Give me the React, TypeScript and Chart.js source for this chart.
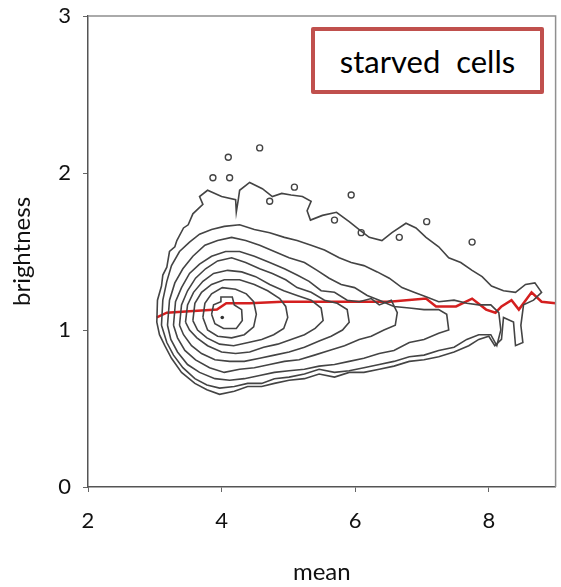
import React, { useEffect, useRef } from "react";
import { Chart, registerables } from "chart.js";

Chart.register(...registerables);

const xTicks = [2, 4, 6, 8];
const yTicks = [0, 1, 2, 3];
const xTitle = "mean";
const yTitle = "brightness";
const boxLabel = "starved\u00a0 cells";

// contour levels, outermost first: [mean, brightness]
const contour1 = [
  [3.03, 1.05], [3.04, 1.19], [3.1, 1.28], [3.12, 1.35], [3.18, 1.4], [3.22, 1.5], [3.3, 1.53], [3.33, 1.57], [3.43, 1.65], [3.5, 1.67], [3.57, 1.74],
  [3.72, 1.8], [3.67, 1.85], [3.79, 1.89], [4.0, 1.85], [4.21, 1.83], [4.22, 1.75], [4.25, 1.83],
  [4.27, 1.89], [4.42, 1.94], [4.61, 1.9], [4.76, 1.85], [4.9, 1.87], [5.04, 1.86], [5.21, 1.85],
  [5.34, 1.82], [5.28, 1.76], [5.33, 1.7], [5.51, 1.73], [5.72, 1.75], [5.91, 1.69], [6.06, 1.64],
  [6.21, 1.59], [6.4, 1.57], [6.55, 1.62], [6.76, 1.68], [6.91, 1.65], [7.06, 1.59], [7.25, 1.53],
  [7.4, 1.46], [7.58, 1.43], [7.75, 1.38], [7.9, 1.34], [8.04, 1.28], [8.22, 1.25], [8.4, 1.24],
  [8.55, 1.29], [8.69, 1.3], [8.79, 1.24], [8.67, 1.19], [8.52, 1.16], [8.48, 1.03], [8.51, 0.92],
  [8.4, 0.9], [8.37, 1.05], [8.22, 1.08], [8.19, 0.94], [8.09, 0.9], [8.0, 0.96], [7.85, 0.94], [7.7, 0.9],
  [7.48, 0.86], [7.25, 0.83], [7.03, 0.81], [6.81, 0.8], [6.58, 0.77], [6.36, 0.75], [6.13, 0.73],
  [5.91, 0.73], [5.69, 0.7], [5.46, 0.72], [5.24, 0.69], [5.01, 0.68], [4.79, 0.66], [4.6, 0.64],
  [4.39, 0.64], [4.19, 0.61], [3.97, 0.59], [3.78, 0.62], [3.6, 0.66], [3.4, 0.73], [3.25, 0.82],
  [3.15, 0.9], [3.07, 0.97], [3.03, 1.05],
];
const contour2 = [
  [3.1, 1.03], [3.12, 1.19], [3.18, 1.31], [3.25, 1.41], [3.37, 1.5], [3.52, 1.56], [3.67, 1.61],
  [3.85, 1.64], [4.04, 1.66], [4.27, 1.67], [4.49, 1.64], [4.72, 1.62], [4.94, 1.59], [5.13, 1.57],
  [5.34, 1.54], [5.54, 1.51], [5.76, 1.46], [5.94, 1.43], [6.13, 1.41], [6.33, 1.37], [6.51, 1.33],
  [6.7, 1.27], [6.88, 1.24], [7.07, 1.21], [7.25, 1.18], [7.48, 1.19], [7.67, 1.17], [7.85, 1.16],
  [8.03, 1.16], [8.15, 1.11], [8.18, 1.0], [8.12, 0.9], [8.03, 0.97], [7.85, 0.97], [7.67, 0.94],
  [7.48, 0.89], [7.25, 0.87], [7.03, 0.84], [6.81, 0.83], [6.58, 0.8], [6.36, 0.78], [6.13, 0.76],
  [5.91, 0.74], [5.69, 0.73], [5.46, 0.75], [5.24, 0.72], [5.01, 0.7], [4.79, 0.69], [4.6, 0.66],
  [4.39, 0.66], [4.19, 0.64], [3.97, 0.63], [3.78, 0.65], [3.6, 0.69], [3.42, 0.76], [3.28, 0.84],
  [3.18, 0.92], [3.1, 1.03],
];
const contour3 = [
  [3.19, 1.03], [3.22, 1.19], [3.3, 1.3], [3.42, 1.39], [3.57, 1.47], [3.75, 1.54], [3.94, 1.57],
  [4.15, 1.59], [4.36, 1.57], [4.57, 1.54], [4.79, 1.5], [5.01, 1.46], [5.24, 1.43], [5.43, 1.38],
  [5.61, 1.33], [5.79, 1.29], [5.99, 1.27], [6.18, 1.22], [6.36, 1.19], [6.58, 1.15], [6.81, 1.14],
  [7.03, 1.13], [7.25, 1.13], [7.37, 1.1], [7.4, 1.0], [7.25, 0.98], [7.03, 0.94], [6.81, 0.92],
  [6.58, 0.87], [6.36, 0.85], [6.13, 0.82], [5.91, 0.8], [5.69, 0.78], [5.46, 0.77], [5.24, 0.75],
  [5.01, 0.74], [4.79, 0.73], [4.57, 0.71], [4.34, 0.69], [4.12, 0.68], [3.9, 0.69], [3.67, 0.73],
  [3.49, 0.78], [3.34, 0.86], [3.24, 0.94], [3.19, 1.03],
];
const contour4 = [
  [3.28, 1.03], [3.31, 1.18], [3.4, 1.27], [3.52, 1.36], [3.67, 1.42], [3.85, 1.47], [4.06, 1.5],
  [4.27, 1.5], [4.49, 1.47], [4.72, 1.43], [4.94, 1.39], [5.13, 1.35], [5.31, 1.31], [5.49, 1.25],
  [5.69, 1.24], [5.88, 1.19], [6.06, 1.18], [6.24, 1.2], [6.36, 1.16], [6.54, 1.19], [6.63, 1.11],
  [6.6, 1.03], [6.43, 1.0], [6.24, 0.96], [6.06, 0.94], [5.84, 0.9], [5.61, 0.87], [5.39, 0.84],
  [5.16, 0.81], [4.94, 0.8], [4.72, 0.78], [4.49, 0.76], [4.27, 0.75], [4.04, 0.73], [3.82, 0.76],
  [3.61, 0.81], [3.45, 0.87], [3.34, 0.95], [3.28, 1.03],
];
const contour5 = [
  [3.37, 1.03], [3.4, 1.16], [3.49, 1.25], [3.61, 1.33], [3.76, 1.39], [3.94, 1.44], [4.15, 1.46],
  [4.36, 1.43], [4.57, 1.39], [4.76, 1.36], [4.96, 1.32], [5.13, 1.27], [5.34, 1.24], [5.54, 1.19],
  [5.73, 1.17], [5.88, 1.13], [5.91, 1.05], [5.81, 1.0], [5.64, 0.96], [5.46, 0.93], [5.24, 0.89],
  [5.01, 0.86], [4.79, 0.84], [4.57, 0.82], [4.34, 0.8], [4.12, 0.8], [3.9, 0.81], [3.7, 0.85],
  [3.55, 0.9], [3.43, 0.97], [3.37, 1.03],
];
const contour6 = [
  [3.46, 1.05], [3.49, 1.16], [3.58, 1.24], [3.72, 1.31], [3.88, 1.36], [4.09, 1.38], [4.3, 1.37],
  [4.51, 1.34], [4.72, 1.29], [4.93, 1.25], [5.13, 1.22], [5.34, 1.19], [5.49, 1.14], [5.52, 1.06],
  [5.4, 1.01], [5.24, 0.97], [5.04, 0.94], [4.84, 0.91], [4.63, 0.89], [4.42, 0.86], [4.21, 0.85],
  [4.0, 0.86], [3.79, 0.9], [3.63, 0.95], [3.52, 1.0], [3.46, 1.05],
];
const contour7 = [
  [3.57, 1.06], [3.6, 1.17], [3.7, 1.24], [3.85, 1.29], [4.04, 1.32], [4.27, 1.32], [4.49, 1.29],
  [4.69, 1.25], [4.87, 1.2], [4.96, 1.15], [4.99, 1.08], [4.93, 1.01], [4.78, 0.97], [4.6, 0.94],
  [4.4, 0.92], [4.18, 0.9], [3.97, 0.91], [3.78, 0.95], [3.64, 1.0], [3.57, 1.06],
];
const contour8 = [
  [3.72, 1.08], [3.75, 1.17], [3.85, 1.23], [4.01, 1.27], [4.21, 1.26], [4.37, 1.23], [4.48, 1.18],
  [4.52, 1.1], [4.48, 1.02], [4.34, 0.97], [4.15, 0.95], [3.94, 0.96], [3.79, 1.0], [3.72, 1.08],
];
const contour9 = [
  [3.85, 1.1], [3.88, 1.16], [3.99, 1.18], [3.99, 1.21], [4.16, 1.21], [4.19, 1.16], [4.3, 1.13],
  [4.31, 1.06], [4.22, 1.01], [4.03, 1.01], [3.9, 1.04], [3.85, 1.1],
];
const contours = [contour1, contour2, contour3, contour4, contour5, contour6, contour7, contour8, contour9];

// small isolated contour islands
const islands = [
  [4.1, 2.1], [4.57, 2.16], [3.87, 1.97], [4.12, 1.97], [5.09, 1.91], [5.94, 1.86],
  [7.07, 1.69], [7.75, 1.56], [4.72, 1.82], [5.69, 1.7], [6.09, 1.62], [6.66, 1.59],
];
const peak = [[4.01, 1.08]];

// red running mean of brightness
const trendMean = [3.03, 3.18, 3.52, 3.93, 4.07, 4.42, 4.91, 5.46, 5.91, 6.51, 7.06, 7.21, 7.51, 7.75, 7.96, 8.1, 8.19, 8.34, 8.45, 8.64, 8.79, 9.0];
const trendBrightness = [1.08, 1.11, 1.12, 1.13, 1.17, 1.17, 1.18, 1.18, 1.18, 1.18, 1.2, 1.15, 1.15, 1.2, 1.13, 1.11, 1.15, 1.19, 1.13, 1.24, 1.18, 1.17];

const FONT = "Lato, 'Open Sans', 'DejaVu Sans', sans-serif";

export default function App() {
  const ref = useRef<HTMLCanvasElement | null>(null);

  useEffect(() => {
    if (!ref.current) return;
    const toPts = (arr: number[][]) => arr.map(([x, y]) => ({ x, y }));
    const framePlugin = {
      id: "frame",
      afterDatasetsDraw(chart: any) {
        const { ctx, chartArea } = chart;
        ctx.save();
        ctx.strokeStyle = "#8f8f8f";
        ctx.lineWidth = 1.5;
        ctx.beginPath();
        ctx.moveTo(chartArea.left, chartArea.top);
        ctx.lineTo(chartArea.right, chartArea.top);
        ctx.lineTo(chartArea.right, chartArea.bottom);
        ctx.stroke();
        ctx.restore();
      },
    };
    const datasets: any[] = contours.map((c, i) => ({
      label: "level " + (i + 1),
      data: toPts(c),
      showLine: true,
      borderColor: "#444",
      borderWidth: 1.6,
      pointRadius: 0,
      tension: 0,
      fill: false,
    }));
    datasets.push({
      label: "islands",
      data: toPts(islands),
      showLine: false,
      pointRadius: 3,
      pointBorderWidth: 1.4,
      pointBorderColor: "#444",
      pointBackgroundColor: "rgba(0,0,0,0)",
    });
    datasets.push({
      label: "peak",
      data: toPts(peak),
      showLine: false,
      pointRadius: 1.8,
      pointBorderWidth: 0,
      pointBackgroundColor: "#333",
    });
    datasets.push({
      label: "trend",
      data: trendMean.map((x, i) => ({ x, y: trendBrightness[i] })),
      showLine: true,
      borderColor: "#d41f1f",
      borderWidth: 2.5,
      pointRadius: 0,
      tension: 0,
    });

    const chart = new Chart(ref.current, {
      type: "scatter",
      data: { datasets },
      options: {
        animation: false,
        responsive: false,
        maintainAspectRatio: false,
        layout: { padding: { top: 16, right: 0, bottom: 0, left: 0 } },
        plugins: { legend: { display: false }, tooltip: { enabled: false } },
        scales: {
          x: {
            type: "linear",
            min: 2,
            max: 9,
            afterBuildTicks: (s: any) => {
              s.ticks = xTicks.map((v) => ({ value: v }));
            },
            afterFit: (s: any) => {
              s.height = 100;
              s.paddingLeft = 0;
              s.paddingRight = 0;
            },
            border: { display: true, color: "#555", width: 1.5 },
            grid: { drawOnChartArea: false, drawTicks: true, tickLength: 5, color: "#666" },
            ticks: { color: "#111", font: { family: FONT, size: 22 }, padding: 16, maxRotation: 0 },
            title: { display: true, text: xTitle, color: "#111", font: { family: FONT, size: 24 }, padding: 0 },
          },
          y: {
            type: "linear",
            min: 0,
            max: 3,
            afterBuildTicks: (s: any) => {
              s.ticks = yTicks.map((v) => ({ value: v }));
            },
            afterFit: (s: any) => {
              s.width = 88;
              s.paddingTop = 0;
              s.paddingBottom = 0;
            },
            border: { display: true, color: "#555", width: 1.5 },
            grid: { drawOnChartArea: false, drawTicks: true, tickLength: 5, color: "#666" },
            ticks: { color: "#111", font: { family: FONT, size: 22 }, padding: 12 },
            title: { display: true, text: yTitle, color: "#111", font: { family: FONT, size: 24 }, padding: { top: 8, bottom: 0 } },
          },
        },
      },
      plugins: [framePlugin],
    } as any);
    return () => chart.destroy();
  }, []);

  return (
    <div style={{ position: "absolute", left: 0, top: 0, width: 561, height: 587, background: "#fff" }}>
      <canvas ref={ref} width={561} height={587} style={{ display: "block", width: 561, height: 587 }} />
      <div
        style={{
          position: "absolute",
          left: 311,
          top: 27,
          width: 233,
          height: 67,
          boxSizing: "border-box",
          border: "4px solid #c0504d",
          borderRadius: 2,
          background: "#fff",
          display: "flex",
          alignItems: "center",
          justifyContent: "center",
          fontFamily: FONT,
          fontSize: 31,
          color: "#000",
          whiteSpace: "pre",
        }}
      >
        {boxLabel}
      </div>
    </div>
  );
}
